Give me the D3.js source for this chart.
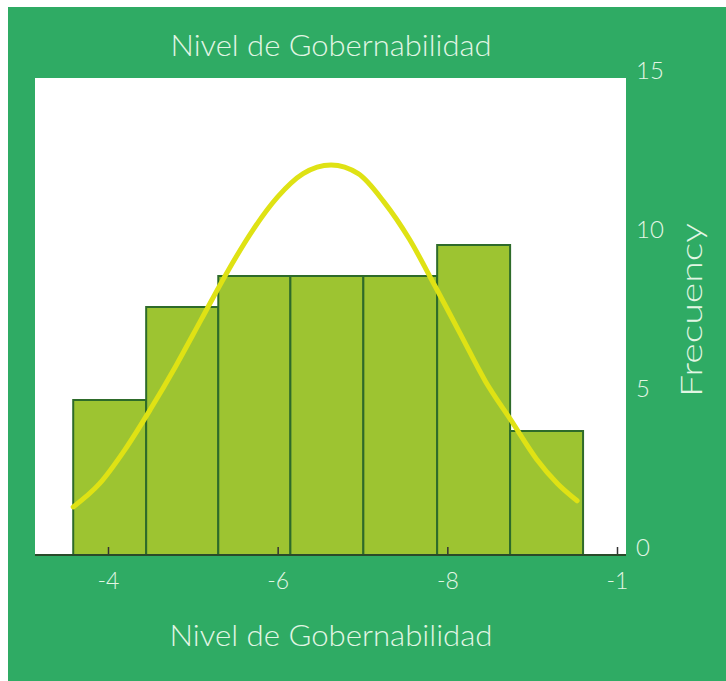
<!DOCTYPE html>
<html>
<head>
<meta charset="utf-8">
<script src="https://cdn.jsdelivr.net/npm/d3@7"></script>
<style>
  html, body { margin: 0; padding: 0; background: #ffffff; }
  svg { display: block; }
  text { font-family: "Lato", "Open Sans", sans-serif; font-weight: 300; }
</style>
</head>
<body>
<svg id="chart" width="726" height="681"></svg>
<script>
// ---- data ----
const title = "Nivel de Gobernabilidad";
const xLabel = "Nivel de Gobernabilidad";
const yLabel = "Frecuency";
const binEdges = [-3.59, -4.45, -5.30, -6.15, -7.01, -7.88, -8.74, -9.60];
const binCounts = [5, 8, 9, 9, 9, 10, 4];
const curveX = [-3.59, -3.9, -4.2, -4.5, -4.8, -5.1, -5.4, -5.7, -6.0, -6.3, -6.63, -6.95, -7.25, -7.55, -7.85, -8.15, -8.45, -8.75, -9.05, -9.3, -9.53];
const curveY = [1.55, 2.3, 3.4, 4.7, 6.1, 7.6, 9.1, 10.45, 11.55, 12.3, 12.58, 12.3, 11.4, 10.2, 8.7, 7.15, 5.6, 4.35, 3.1, 2.3, 1.75];
const xTickValues = [-4, -6, -8, -10];
const xTickLabels = ["-4", "-6", "-8", "-1"];
const yTickValues = [0, 5, 10, 15];

// ---- layout ----
const svg = d3.select("#chart");
const plot = { left: 35, right: 626, top: 78, bottom: 555 };
const textColor = "#e2f6e4";

svg.append("rect").attr("x", 8).attr("y", 7).attr("width", 718).attr("height", 674)
  .attr("fill", "#2fab64");
svg.append("rect").attr("x", plot.left).attr("y", plot.top)
  .attr("width", plot.right - plot.left).attr("height", plot.bottom - plot.top)
  .attr("fill", "#ffffff");

const x = d3.scaleLinear().domain([-4, -10]).range([108, 617]);
const y = d3.scaleLinear().domain([0, 15]).range([plot.bottom, 90]);
const yLab = d3.scaleLinear().domain([0, 15]).range([546, 69]);

// bars
const bins = binCounts.map((c, i) => ({ x0: binEdges[i], x1: binEdges[i + 1], count: c }));
svg.append("g").selectAll("rect").data(bins).join("rect")
  .attr("x", d => x(d.x0))
  .attr("y", d => y(d.count))
  .attr("width", d => x(d.x1) - x(d.x0))
  .attr("height", d => y(0) - y(d.count))
  .attr("fill", "#9dc431")
  .attr("stroke", "#2e6b2a")
  .attr("stroke-width", 2);

// normal curve
const pts = curveX.map((v, i) => [v, curveY[i]]);
svg.append("path").datum(pts)
  .attr("d", d3.line().x(d => x(d[0])).y(d => y(d[1])).curve(d3.curveMonotoneX))
  .attr("fill", "none")
  .attr("stroke", "#dfe214")
  .attr("stroke-width", 5)
  .attr("stroke-linecap", "round");

// x axis
const xAxis = svg.append("g").attr("transform", `translate(0,${plot.bottom})`)
  .call(d3.axisBottom(x).tickValues(xTickValues).tickSizeInner(-8).tickSizeOuter(0)
    .tickFormat((d, i) => xTickLabels[i]));
xAxis.select(".domain").remove();
xAxis.selectAll(".tick line").attr("stroke", "#333").attr("stroke-width", 1.5);
xAxis.selectAll(".tick text")
  .attr("fill", textColor).attr("font-size", 23).attr("y", 18)
  .style("font-family", "Lato, sans-serif").style("font-weight", 300);
svg.append("line").attr("x1", plot.left).attr("x2", plot.right)
  .attr("y1", plot.bottom).attr("y2", plot.bottom)
  .attr("stroke", "#2a4a2a").attr("stroke-width", 2);

// y axis labels (right)
svg.append("g").selectAll("text").data(yTickValues).join("text")
  .attr("x", 636).attr("y", d => yLab(d))
  .attr("dominant-baseline", "central")
  .attr("fill", textColor).attr("font-size", 24)
  .text(d => d);

// titles
svg.append("text").attr("x", 331).attr("y", 56).attr("text-anchor", "middle")
  .attr("fill", textColor).attr("font-size", 30)
  .attr("textLength", 321).attr("lengthAdjust", "spacingAndGlyphs")
  .text(title);
svg.append("text").attr("x", 331).attr("y", 646).attr("text-anchor", "middle")
  .attr("fill", textColor).attr("font-size", 30)
  .attr("textLength", 323).attr("lengthAdjust", "spacingAndGlyphs")
  .text(xLabel);
svg.append("text")
  .attr("transform", "translate(702,310) rotate(-90)")
  .attr("text-anchor", "middle")
  .attr("fill", textColor).attr("font-size", 29)
  .attr("textLength", 174).attr("lengthAdjust", "spacingAndGlyphs")
  .text(yLabel);
</script>
</body>
</html>
